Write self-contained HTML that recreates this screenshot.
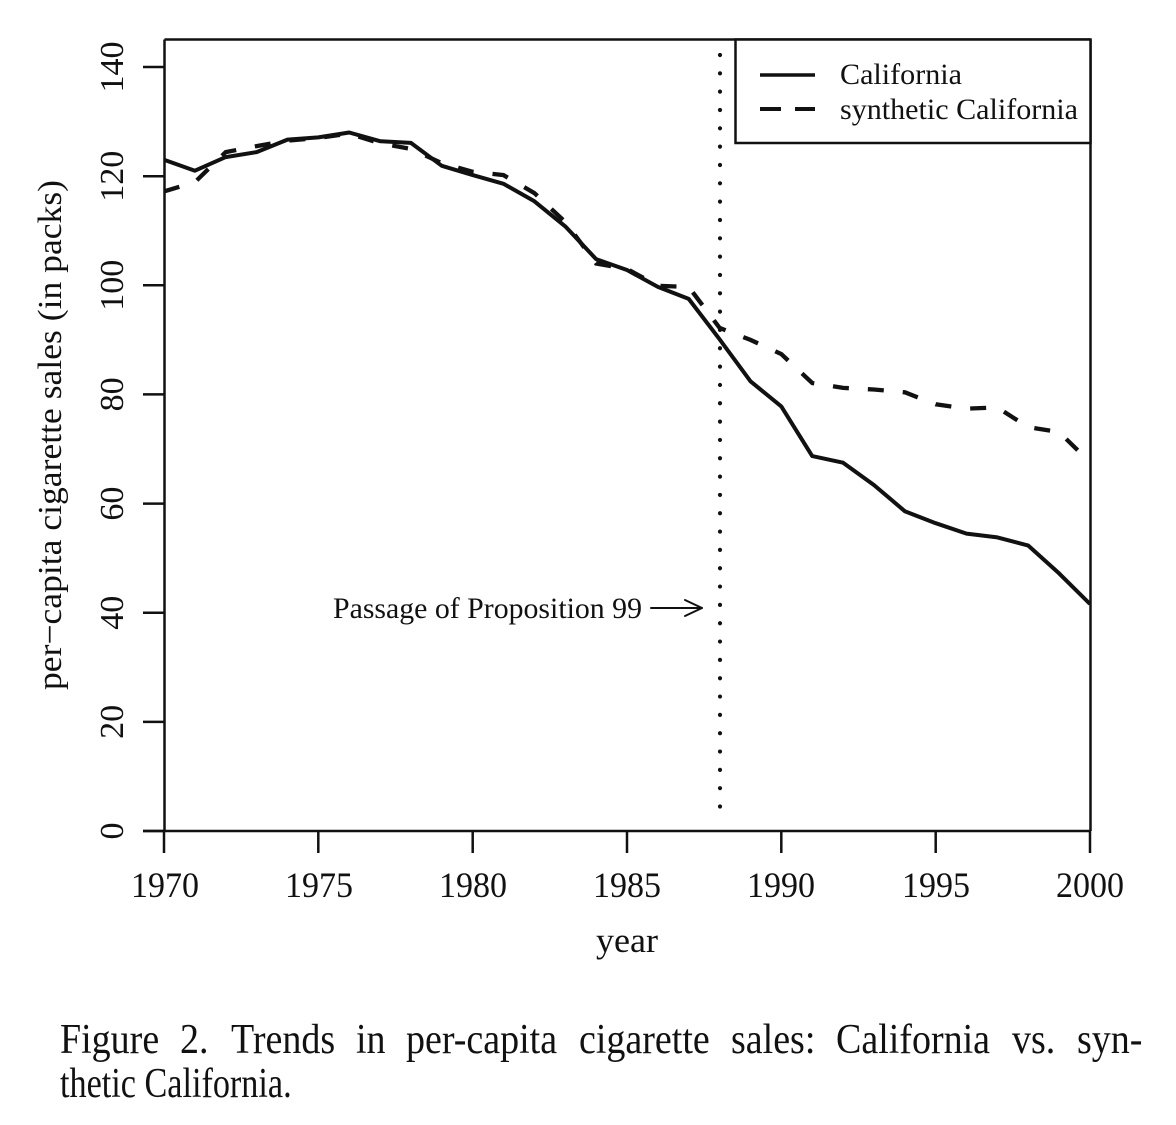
<!DOCTYPE html>
<html>
<head>
<meta charset="utf-8">
<style>
  html, body { margin: 0; padding: 0; background: #fff; }
  svg { display: block; }
  text { font-family: "Liberation Serif", "Times New Roman", serif; fill: #111; }
</style>
</head>
<body>
<svg width="1176" height="1125" viewBox="0 0 1176 1125" xmlns="http://www.w3.org/2000/svg">
  <rect width="1176" height="1125" fill="#fff"/>

  <!-- Plot box (top, left, right) and bottom axis -->
  <g stroke="#111" stroke-width="2.5" fill="none">
    <line x1="164.5" y1="39.5" x2="1090.5" y2="39.5"/>
    <line x1="164.5" y1="39.5" x2="164.5" y2="831"/>
    <line x1="1090.5" y1="39.5" x2="1090.5" y2="831"/>
    <line x1="143" y1="831" x2="1091" y2="831"/>
  </g>

  <!-- Y ticks -->
  <g stroke="#111" stroke-width="2.5">
    <line x1="143" y1="831" x2="165" y2="831"/>
    <line x1="143" y1="721.9" x2="165" y2="721.9"/>
    <line x1="143" y1="612.7" x2="165" y2="612.7"/>
    <line x1="143" y1="503.6" x2="165" y2="503.6"/>
    <line x1="143" y1="394.4" x2="165" y2="394.4"/>
    <line x1="143" y1="285.3" x2="165" y2="285.3"/>
    <line x1="143" y1="176.2" x2="165" y2="176.2"/>
    <line x1="143" y1="67" x2="165" y2="67"/>
  </g>

  <!-- Y tick labels (rotated) -->
  <g font-size="34" text-anchor="middle">
    <text transform="translate(123,831) rotate(-90)">0</text>
    <text transform="translate(123,721.9) rotate(-90)">20</text>
    <text transform="translate(123,612.7) rotate(-90)">40</text>
    <text transform="translate(123,503.6) rotate(-90)">60</text>
    <text transform="translate(123,394.4) rotate(-90)">80</text>
    <text transform="translate(123,285.3) rotate(-90)">100</text>
    <text transform="translate(123,176.2) rotate(-90)">120</text>
    <text transform="translate(123,67) rotate(-90)">140</text>
  </g>

  <!-- Y axis label -->
  <text transform="translate(61,435) rotate(-90)" font-size="34" text-anchor="middle" textLength="510" lengthAdjust="spacingAndGlyphs">per−capita cigarette sales (in packs)</text>

  <!-- X ticks -->
  <g stroke="#111" stroke-width="2.5">
    <line x1="164" y1="831" x2="164" y2="853"/>
    <line x1="318.3" y1="831" x2="318.3" y2="853"/>
    <line x1="472.7" y1="831" x2="472.7" y2="853"/>
    <line x1="627" y1="831" x2="627" y2="853"/>
    <line x1="781.3" y1="831" x2="781.3" y2="853"/>
    <line x1="935.7" y1="831" x2="935.7" y2="853"/>
    <line x1="1090" y1="831" x2="1090" y2="853"/>
  </g>

  <!-- X tick labels -->
  <g font-size="36" text-anchor="middle">
    <text x="165" y="897" textLength="68" lengthAdjust="spacingAndGlyphs">1970</text>
    <text x="319" y="897" textLength="68" lengthAdjust="spacingAndGlyphs">1975</text>
    <text x="473" y="897" textLength="68" lengthAdjust="spacingAndGlyphs">1980</text>
    <text x="627" y="897" textLength="68" lengthAdjust="spacingAndGlyphs">1985</text>
    <text x="781" y="897" textLength="68" lengthAdjust="spacingAndGlyphs">1990</text>
    <text x="936" y="897" textLength="68" lengthAdjust="spacingAndGlyphs">1995</text>
    <text x="1090" y="897" textLength="68" lengthAdjust="spacingAndGlyphs">2000</text>
  </g>

  <!-- X axis label -->
  <text x="627" y="952" font-size="35" text-anchor="middle" textLength="62" lengthAdjust="spacingAndGlyphs">year</text>

  <!-- Vertical dotted line at 1988 -->
  <line x1="720" y1="55" x2="720" y2="816" stroke="#111" stroke-width="4.2" stroke-linecap="round" stroke-dasharray="0 18.33"/>

  <!-- California (solid) -->
  <polyline fill="none" stroke="#111" stroke-width="4" stroke-linejoin="round"
    points="164,159.8 194.9,170.7 225.7,157.1 256.6,152.1 287.5,139.6 318.3,137.4 349.2,132.5 380.1,141.2 410.9,142.9 441.8,165.8 472.7,175.1 503.5,183.8 534.4,201.3 565.3,226.4 596.1,259.1 627,270 657.9,286.9 688.7,298.9 719.6,339.3 750.5,381.3 781.3,406.4 812.2,456.1 843.1,462.7 873.9,485 904.8,511.2 935.7,523.2 966.5,533.6 997.4,537.4 1028.3,545.6 1059.1,573.4 1090,604"/>

  <!-- Synthetic California (dashed) -->
  <polyline fill="none" stroke="#111" stroke-width="4.3" stroke-dasharray="16 19"
    points="164,191.4 194.9,182.2 225.7,152.1 256.6,146.1 287.5,140.7 318.3,138 349.2,133.6 380.1,143.4 410.9,148.9 441.8,163.1 472.7,171.8 503.5,175.1 534.4,193.1 565.3,222 596.1,263.5 627,268.9 657.9,285.8 688.7,286.9 719.6,327.9 750.5,339.9 781.3,354.1 812.2,383 843.1,387.9 873.9,389.5 904.8,392.3 935.7,404.3 966.5,408.6 997.4,407.5 1028.3,427.2 1059.1,432.1 1090,462.1"/>

  <!-- Annotation -->
  <text x="333" y="618" font-size="30" textLength="309" lengthAdjust="spacingAndGlyphs">Passage of Proposition 99</text>
  <g stroke="#111" stroke-width="2" fill="none" stroke-linecap="round" stroke-linejoin="round">
    <line x1="651" y1="608" x2="702" y2="608"/>
    <polyline points="685,600 702,608 685,616"/>
  </g>

  <!-- Legend -->
  <rect x="735.5" y="39.5" width="355" height="103.5" fill="#fff" stroke="#111" stroke-width="2.5"/>
  <line x1="760" y1="75" x2="815" y2="75" stroke="#111" stroke-width="3.5"/>
  <line x1="760" y1="109" x2="815" y2="109" stroke="#111" stroke-width="4" stroke-dasharray="21 14"/>
  <text x="840" y="84" font-size="30" textLength="122" lengthAdjust="spacingAndGlyphs">California</text>
  <text x="840" y="119" font-size="30" textLength="238" lengthAdjust="spacingAndGlyphs">synthetic California</text>

  <!-- Caption -->
  <g font-size="38">
    <text transform="translate(0,1053) scale(1,1.1)">
      <tspan x="60">Figure</tspan>
      <tspan x="180">2.</tspan>
      <tspan x="231">Trends</tspan>
      <tspan x="356">in</tspan>
      <tspan x="406">per-capita</tspan>
      <tspan x="579">cigarette</tspan>
      <tspan x="731">sales:</tspan>
      <tspan x="836">California</tspan>
      <tspan x="1012">vs.</tspan>
      <tspan x="1077">syn-</tspan>
    </text>
    <text transform="translate(60,1097) scale(0.9,1.1)">thetic California.</text>
  </g>
</svg>
</body>
</html>
